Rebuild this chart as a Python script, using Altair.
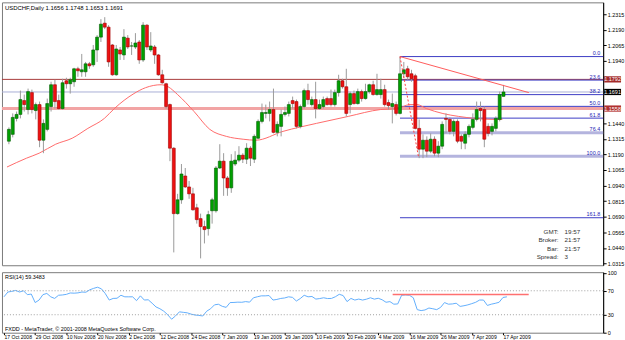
import altair as alt
import pandas as pd

FONT = "Liberation Sans Narrow, Liberation Sans, sans-serif"

# ---------------- data ----------------
date_labels = ["17 Oct 2008", "29 Oct 2008", "10 Nov 2008", "20 Nov 2008", "2 Dec 2008",
               "12 Dec 2008", "24 Dec 2008", "7 Jan 2009", "19 Jan 2009", "29 Jan 2009",
               "10 Feb 2009", "20 Feb 2009", "4 Mar 2009", "16 Mar 2009", "26 Mar 2009",
               "7 Apr 2009", "17 Apr 2009"]
label_step = 8

opens = [1.1296,1.1351,1.1479,1.1511,1.1622,1.1550,1.1686,1.1542,1.1590,1.1304,
         1.1391,1.1574,1.1749,1.1622,1.1558,1.1781,1.1757,1.1773,1.1877,1.1853,
         1.1853,1.1917,1.1909,1.2028,1.2131,1.2243,1.2211,1.2068,1.1829,1.2028,
         1.1988,1.2123,1.2060,1.2052,1.2092,1.1948,1.2227,1.2028,1.2052,1.1988,
         1.1829,1.1757,1.1590,1.1240,1.0715,1.0826,1.1017,1.0929,1.0874,1.0762,
         1.0675,1.0611,1.0595,1.0738,1.0738,1.1081,1.1136,1.1001,1.0922,1.1113,
         1.1144,1.1184,1.1152,1.1240,1.1152,1.1320,1.1455,1.1519,1.1519,1.1550,
         1.1367,1.1415,1.1511,1.1519,1.1622,1.1614,1.1415,1.1574,1.1702,1.1590,
         1.1630,1.1558,1.1574,1.1638,1.1638,1.1590,1.1686,1.1781,1.1733,1.1590,
         1.1678,1.1598,1.1694,1.1638,1.1694,1.1749,1.1670,1.1670,1.1710,1.1606,
         1.1574,1.1590,1.1519,1.1837,1.1877,1.1837,1.1821,1.1399,1.1232,1.1304,
         1.1216,1.1312,1.1200,1.1256,1.1479,1.1471,1.1375,1.1455,1.1335,1.1280,
         1.1351,1.1407,1.1471,1.1558,1.1550,1.1415,1.1375,1.1399,1.1471,1.1656]
highs = [1.1407,1.1519,1.1534,1.1702,1.1670,1.1718,1.1710,1.1606,1.1614,1.1471,
         1.1638,1.1773,1.1789,1.1670,1.1797,1.1805,1.1805,1.1885,1.1893,1.1996,
         1.1932,1.1932,1.2068,1.2147,1.2275,1.2291,1.2227,1.2076,1.2068,1.2052,
         1.2195,1.2147,1.2092,1.2163,1.2108,1.2251,1.2235,1.2171,1.2068,1.1996,
         1.1869,1.1765,1.1598,1.1248,1.0874,1.1113,1.1081,1.0977,1.0922,1.0794,
         1.0715,1.0659,1.0738,1.0842,1.1097,1.1272,1.1200,1.1017,1.1192,1.1216,
         1.1256,1.1200,1.1280,1.1256,1.1351,1.1471,1.1598,1.1590,1.1614,1.1718,
         1.1455,1.1550,1.1574,1.1614,1.1654,1.1630,1.1590,1.1718,1.1757,1.1654,
         1.1773,1.1630,1.1654,1.1654,1.1710,1.1710,1.1829,1.1797,1.1877,1.1694,
         1.1702,1.1718,1.1710,1.1757,1.1757,1.1781,1.1837,1.1797,1.1749,1.1630,
         1.1678,1.1614,1.1975,1.1932,1.1901,1.1869,1.1837,1.1471,1.1351,1.1335,
         1.1359,1.1335,1.1296,1.1455,1.1519,1.1487,1.1471,1.1471,1.1351,1.1375,
         1.1431,1.1519,1.1614,1.1614,1.1574,1.1439,1.1439,1.1495,1.1694,1.1748]
lows = [1.1272,1.1327,1.1455,1.1479,1.1534,1.1511,1.1519,1.1471,1.1248,1.1200,
        1.1375,1.1534,1.1558,1.1550,1.1550,1.1718,1.1678,1.1733,1.1813,1.1813,
        1.1813,1.1877,1.1893,1.1932,1.2092,1.2195,1.1893,1.1821,1.1821,1.1948,
        1.1948,1.2036,1.1988,1.2036,1.1917,1.1932,1.2028,1.2012,1.1917,1.1821,
        1.1757,1.1558,1.1136,1.0404,1.0707,1.0794,1.0922,1.0834,1.0738,1.0635,
        1.0356,1.0476,1.0539,1.0635,1.0723,1.1073,1.0858,1.0858,1.0882,1.1097,
        1.1128,1.1121,1.1113,1.1097,1.1121,1.1312,1.1439,1.1479,1.1455,1.1359,
        1.1335,1.1335,1.1495,1.1495,1.1558,1.1399,1.1399,1.1558,1.1590,1.1574,
        1.1479,1.1550,1.1558,1.1582,1.1574,1.1574,1.1654,1.1718,1.1495,1.1519,
        1.1590,1.1590,1.1614,1.1630,1.1678,1.1662,1.1662,1.1638,1.1574,1.1550,
        1.1439,1.1503,1.1511,1.1805,1.1789,1.1773,1.1391,1.1160,1.1160,1.1168,
        1.1200,1.1176,1.1168,1.1232,1.1359,1.1351,1.1335,1.1280,1.1232,1.1232,
        1.1327,1.1391,1.1455,1.1455,1.1248,1.1335,1.1343,1.1375,1.1455,1.1653]
closes = [1.1391,1.1487,1.1511,1.1630,1.1590,1.1694,1.1550,1.1590,1.1304,1.1439,
          1.1598,1.1749,1.1614,1.1558,1.1765,1.1757,1.1789,1.1877,1.1861,1.1869,
          1.1917,1.1901,1.2028,1.2131,1.2235,1.2211,1.1932,1.1829,1.2036,1.1996,
          1.2131,1.2052,1.2060,1.2084,1.1948,1.2227,1.2052,1.2060,1.1988,1.1829,
          1.1765,1.1574,1.1240,1.0715,1.0826,1.1033,1.0929,1.0874,1.0746,1.0667,
          1.0611,1.0587,1.0707,1.0826,1.1081,1.1136,1.1001,1.0922,1.1136,1.1144,
          1.1184,1.1152,1.1240,1.1160,1.1335,1.1455,1.1526,1.1526,1.1550,1.1367,
          1.1431,1.1511,1.1526,1.1590,1.1598,1.1415,1.1574,1.1702,1.1630,1.1630,
          1.1558,1.1590,1.1630,1.1590,1.1590,1.1686,1.1781,1.1733,1.1519,1.1678,
          1.1598,1.1694,1.1638,1.1694,1.1749,1.1670,1.1710,1.1710,1.1590,1.1582,
          1.1598,1.1519,1.1837,1.1869,1.1813,1.1797,1.1399,1.1232,1.1304,1.1216,
          1.1312,1.1200,1.1256,1.1431,1.1471,1.1375,1.1455,1.1296,1.1296,1.1351,
          1.1415,1.1471,1.1550,1.1542,1.1312,1.1359,1.1415,1.1479,1.1670,1.1691]
rsi_values = [59.9,67.9,69.0,70.5,67.9,70.0,63.5,64.5,50.3,54.5,
              63.6,65.5,59.9,57.2,62.5,63.0,64.0,66.3,66.0,66.5,
              67.9,67.5,71.6,74.0,75.9,73.2,65.2,54.5,57.2,57.5,
              62.5,59.9,59.9,59.9,53.5,61.5,54.5,55.0,49.2,43.0,
              40.0,35.9,30.0,22.5,28.0,34.8,34.0,33.2,31.0,29.5,
              28.9,27.9,35.9,40.0,46.5,47.5,44.0,42.3,50.3,50.5,
              51.0,50.8,51.9,51.0,58.3,60.0,61.5,61.5,62.0,54.5,
              55.5,57.2,58.0,59.9,59.0,52.9,57.0,62.5,59.9,60.5,
              56.1,57.0,58.3,57.0,57.2,60.0,64.1,62.0,51.9,57.2,
              54.5,56.1,54.5,56.0,58.3,56.0,57.5,55.0,50.8,51.9,
              47.6,48.0,62.5,63.0,62.5,58.3,38.5,36.9,38.0,41.2,
              40.0,38.5,42.3,50.3,47.6,48.0,49.2,43.9,45.0,46.5,
              48.5,50.8,54.5,54.5,45.5,47.6,49.0,50.8,58.8,59.9]
ma_bar = [-0.5, 4.6, 7.9, 12.2, 16.5, 20.6, 24.9, 27.5, 32.6, 35.6, 39.7, 41.5, 44.0,
          48.3, 52.4, 56.7, 61.1, 64.4, 71.5, 80.2, 88.5, 96.9, 101.3, 104.6, 106.4,
          108.9, 113.2, 117.3, 121.6, 126.0, 128.7]
ma_price = [1.1089, 1.1160, 1.1200, 1.1272, 1.1320, 1.1399, 1.1479, 1.1558, 1.1678,
            1.1725, 1.1749, 1.1733, 1.1670, 1.1534, 1.1391, 1.1335, 1.1312, 1.1304,
            1.1375, 1.1439, 1.1495, 1.1550, 1.1558, 1.1590, 1.1590, 1.1558, 1.1518,
            1.1495, 1.1479, 1.1471, 1.1471]

fib_levels = [0.0, 23.6, 38.2, 50.0, 61.8, 76.4, 100.0, 161.8]
fib_names = ["0.0", "23.6", "38.2", "50.0", "61.8", "76.4", "100.0", "161.8"]
fib_anchor_bar = 102
fib_high = 1.1975
fib_low = 1.1176

hline_prices = [1.1792, 1.1691, 1.1558]
hline_names = ["1.1792", "1.1691", "1.1558"]
hline_colors = ["#a83a3a", "#a9aed6", "#f2a4a4"]
hline_widths = [1, 1, 3]
box_colors = ["#a32a2a", "#000000", "#b03030"]

trend_bar = [102, 135.6]
trend_price = [1.1975, 1.1686]
fibline_bar = [102, 106.8]
fibline_price = [1.1975, 1.1176]
rsi_line_bar = [99.7, 134.6]
rsi_line_val = [63.6, 63.6]

price_ticks = [1.0315, 1.0440, 1.0565, 1.0690, 1.0815, 1.0940, 1.1065, 1.1190, 1.1315,
               1.1440, 1.1565, 1.1690, 1.1815, 1.1940, 1.2065, 1.2190, 1.2315]
hidden_ticks = ["1.1565", "1.1690", "1.1815"]  # covered by the price boxes
rsi_ticks = [0, 30, 70, 100]
rsi_levels = [30, 70]

header = "USDCHF,Daily  1.1656 1.1748 1.1653 1.1691"
rsi_title = "RSI(14) 59.3483"
footer = "FXDD - MetaTrader, \u00a9 2001-2008 MetaQuotes Software Corp."
info_labels = ["GMT:", "Broker:", "Bar:", "Spread:"]
info_values = ["19:57", "21:57", "21:57", "3"]

# ---------------- tables ----------------
n = len(opens)
candles = pd.DataFrame({"bar": list(range(n)), "open": opens, "high": highs,
                        "low": lows, "close": closes})
up = candles["close"] >= candles["open"]
candles["fill"] = ["#00a000" if u else "#ee1111" for u in up]
candles["edge"] = ["#005a00" if u else "#a00000" for u in up]

rsi_df = pd.DataFrame({"bar": list(range(n)), "rsi": rsi_values})
ma_df = pd.DataFrame({"bar": ma_bar, "price": ma_price})
fib_df = pd.DataFrame({"level": fib_levels, "name": fib_names})
fib_df["price"] = fib_high - (fib_high - fib_low) * fib_df["level"] / 100.0
fib_df["bar"] = fib_anchor_bar
fib_df["color"] = ["#b4b4de" if l in (76.4, 100.0) else "#3c3cc4" for l in fib_levels]
fib_df["w"] = [3 if l in (76.4, 100.0) else 1 for l in fib_levels]
hl_df = pd.DataFrame({"price": hline_prices, "name": hline_names, "color": hline_colors,
                      "w": hline_widths, "box": box_colors})
trend_df = pd.DataFrame({"bar": trend_bar, "price": trend_price})
fibline_df = pd.DataFrame({"bar": fibline_bar, "price": fibline_price})
rsiline_df = pd.DataFrame({"bar": rsi_line_bar, "rsi": rsi_line_val})
lev_df = pd.DataFrame({"rsi": rsi_levels})

W = 606
H_TOP = 265
H_BOT = 61
xs = alt.Scale(domain=[-0.51, 153.7], nice=False, zero=False)
ys = alt.Scale(domain=[1.0301, 1.2410], nice=False, zero=False)
rs = alt.Scale(domain=[0, 101], nice=False, zero=False)

hide_expr = "indexof(" + str(hidden_ticks).replace('"', "'") + ", format(datum.value, '.4f')) >= 0 ? '' : format(datum.value, '.4f')"
price_axis = alt.Axis(orient="right", values=price_ticks, labelExpr=hide_expr, title=None,
                      grid=False, tickSize=3, labelPadding=1, domain=True,
                      domainColor="#000000", tickColor="#000000")


def X(field="bar"):
    return alt.X(field + ":Q", scale=xs, axis=None, title=None)


def Y(field):
    return alt.Y(field + ":Q", scale=ys, axis=price_axis, title=None)


hlines = alt.Chart(hl_df).mark_rule().encode(
    y=Y("price"),
    color=alt.Color("color:N", scale=None),
    strokeWidth=alt.StrokeWidth("w:Q", scale=None),
)

fib_rules = alt.Chart(fib_df).mark_rule().encode(
    x=X(), x2=alt.value(W),
    y=Y("price"),
    color=alt.Color("color:N", scale=None),
    strokeWidth=alt.StrokeWidth("w:Q", scale=None),
)
fib_text = alt.Chart(fib_df).mark_text(align="right", baseline="bottom", dy=-0.5,
                                       fontSize=5.5, font=FONT, color="#2424b4").encode(
    x=alt.value(603), y=Y("price"), text="name:N")

ma_line = alt.Chart(ma_df).mark_line(color="#ff6a6a", strokeWidth=1, interpolate="monotone").encode(
    x=X(), y=Y("price"))

wicks = alt.Chart(candles).mark_rule(color="#9a9a9a", strokeWidth=1).encode(
    x=X(), y=Y("low"), y2="high:Q")
bodies = alt.Chart(candles).mark_bar(size=3, strokeWidth=0.6).encode(
    x=X(), y=Y("open"), y2="close:Q",
    fill=alt.Fill("fill:N", scale=None), stroke=alt.Stroke("edge:N", scale=None))

trend = alt.Chart(trend_df).mark_line(color="#ff5a5a", strokeWidth=1).encode(
    x=X(), y=Y("price"))
fibline = alt.Chart(fibline_df).mark_line(color="#ff4040", strokeWidth=1, strokeDash=[2, 2]).encode(
    x=X(), y=Y("price"))

boxes = alt.Chart(hl_df).transform_calculate(
    lo="datum.price - 0.0025", hi="datum.price + 0.0025"
).mark_rect().encode(
    x=alt.value(607), x2=alt.value(624),
    y=Y("lo"), y2="hi:Q",
    color=alt.Color("box:N", scale=None))
box_text = alt.Chart(hl_df).mark_text(align="center", baseline="middle", fontSize=5.5,
                                      font=FONT, color="white").encode(
    x=alt.value(615.5), y=Y("price"), text="name:N")

head = alt.Chart(pd.DataFrame({"t": [header]})).mark_text(
    align="left", baseline="middle", fontSize=6, font=FONT, color="#000000").encode(
    x=alt.value(3), y=alt.value(6), text="t:N")

info_layers = []
info_y = [231, 240, 248.5, 257]
for lab, val, yy in zip(info_labels, info_values, info_y):
    d = pd.DataFrame({"l": [lab], "v": [val]})
    info_layers.append(alt.Chart(d).mark_text(align="right", baseline="middle", fontSize=6.3,
                                              font="Liberation Sans, sans-serif", color="#333333").encode(
        x=alt.value(561), y=alt.value(yy), text="l:N"))
    info_layers.append(alt.Chart(d).mark_text(align="left", baseline="middle", fontSize=6.3,
                                              font="Liberation Sans, sans-serif", color="#333333").encode(
        x=alt.value(567), y=alt.value(yy), text="v:N"))

top = alt.layer(hlines, fib_rules, ma_line, wicks, bodies, trend, fibline, fib_text,
                boxes, box_text, head, *info_layers).properties(width=W, height=H_TOP)

# ---------------- RSI panel ----------------
expr = "[" + ",".join("'%s'" % s for s in date_labels) + "][round(datum.value/%d)]" % label_step
date_axis = alt.Axis(values=[i * label_step for i in range(len(date_labels))], labelExpr=expr,
                     labelAlign="left", labelPadding=0, tickSize=2, grid=False, title=None,
                     domain=False, tickColor="#000000", labelFlush=False, labelOverlap=False,
                     labelBaseline="top", labelFontSize=5.1)
rsi_axis = alt.Axis(orient="right", values=rsi_ticks, title=None, grid=False, tickSize=3,
                    labelPadding=1, domainColor="#000000", tickColor="#000000")


def XR(field="bar"):
    return alt.X(field + ":Q", scale=xs, axis=date_axis, title=None)


def YR(field):
    return alt.Y(field + ":Q", scale=rs, axis=rsi_axis, title=None)


lev = alt.Chart(lev_df).mark_rule(color="#a0a0a0", strokeDash=[1, 2], strokeWidth=1).encode(
    y=YR("rsi"))
rsi_line = alt.Chart(rsi_df).mark_line(color="#62aefc", strokeWidth=1).encode(
    x=XR(), y=YR("rsi"))
rsi_red = alt.Chart(rsiline_df).mark_line(color="#ff7070", strokeWidth=1.5).encode(
    x=XR(), y=YR("rsi"))
rsi_lab = alt.Chart(pd.DataFrame({"t": [rsi_title]})).mark_text(
    align="left", baseline="middle", fontSize=5.5, font=FONT, color="#000000").encode(
    x=alt.value(3), y=alt.value(5), text="t:N")
foot = alt.Chart(pd.DataFrame({"t": [footer]})).mark_text(
    align="left", baseline="middle", fontSize=5.5, font=FONT, color="#000000").encode(
    x=alt.value(3), y=alt.value(57), text="t:N")

bottom = alt.layer(rsi_line, lev, rsi_red, rsi_lab, foot).properties(width=W, height=H_BOT)

chart = alt.vconcat(top, bottom, spacing=2).properties(
    padding={"left": 0, "top": 0, "right": 0, "bottom": 0}, background="white"
).configure_view(stroke="#7a7a7a", strokeWidth=1).configure_axis(
    labelFont=FONT, labelFontSize=5.5, labelColor="#000000")

chart.save("out.html", embed_options={"renderer": "svg", "actions": False})
